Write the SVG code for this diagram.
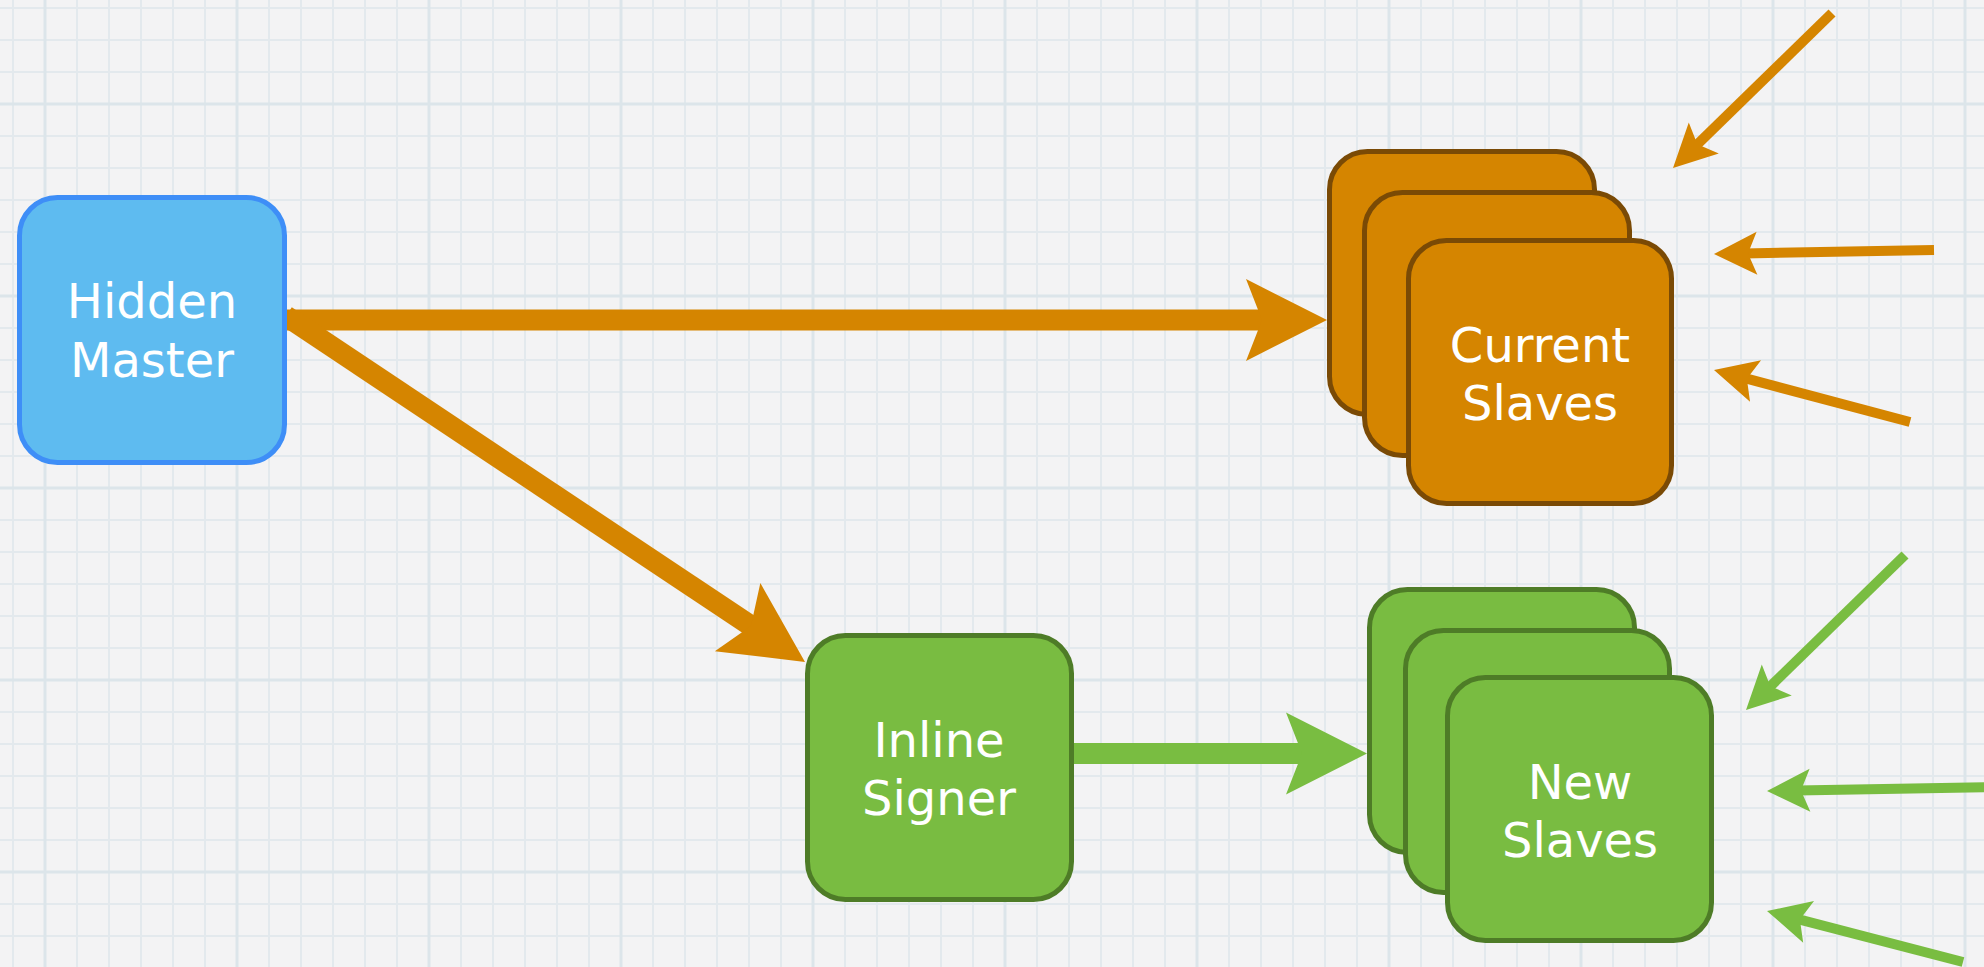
<svg xmlns="http://www.w3.org/2000/svg" xmlns:xlink="http://www.w3.org/1999/xlink" width="1984" height="967" viewBox="0 0 1984 967">
  <style>
    .bg { fill: #f3f3f4; }
    .gthin { stroke: #e3e9ed; stroke-width: 2; }
    .gbold { stroke: #dce5ea; stroke-width: 3; }
    .box-blue { fill: #5ebbf0; stroke: #3e8ef7; stroke-width: 5; }
    .box-orange { fill: #d58500; stroke: #7a4a05; stroke-width: 5; }
    .box-green { fill: #79bc41; stroke: #4e7c27; stroke-width: 5; }
    .lbl { fill: #ffffff; font-family: "DejaVu Sans", Verdana, sans-serif; font-size: 48px; text-anchor: middle; }
    .ln-o { stroke: #d58500; fill: none; stroke-linecap: butt; }
    .ln-g { stroke: #79bd41; fill: none; stroke-linecap: butt; }
    .hd-o { fill: #d58500; }
    .hd-g { fill: #79bd41; }
    .thick { stroke-width: 21; }
    .thin { stroke-width: 10; }
  </style>
  <defs>
    <pattern id="grid" x="-3" y="-8" width="192" height="192" patternUnits="userSpaceOnUse">
      <g class="gthin">
        <line x1="16" y1="0" x2="16" y2="192"/>
        <line x1="80" y1="0" x2="80" y2="192"/>
        <line x1="112" y1="0" x2="112" y2="192"/>
        <line x1="144" y1="0" x2="144" y2="192"/>
        <line x1="176" y1="0" x2="176" y2="192"/>
        <line x1="0" y1="16" x2="192" y2="16"/>
        <line x1="0" y1="48" x2="192" y2="48"/>
        <line x1="0" y1="80" x2="192" y2="80"/>
        <line x1="0" y1="144" x2="192" y2="144"/>
        <line x1="0" y1="176" x2="192" y2="176"/>
      </g>
      <g class="gbold">
        <line x1="48" y1="0" x2="48" y2="192"/>
        <line x1="0" y1="112" x2="192" y2="112"/>
      </g>
    </pattern>
    <path id="headBig" d="M0,0 L-81,-41 L-65,0 L-81,41 Z"/>
    <path id="headSmall" d="M0,0 L-43,-21.5 L-34,0 L-43,21.5 Z"/>
  </defs>

  <rect class="bg" x="0" y="0" width="1984" height="967"/>
  <rect x="0" y="0" width="1984" height="967" fill="url(#grid)"/>

  <g id="connectors">
    <!-- Hidden Master -> Current Slaves -->
    <line class="ln-o thick" x1="284" y1="320" x2="1265" y2="320"/>
    <use xlink:href="#headBig" class="hd-o" transform="translate(1327,320)"/>
    <!-- Hidden Master -> Inline Signer -->
    <line class="ln-o thick" x1="286" y1="316" x2="753.4" y2="627.6"/>
    <use xlink:href="#headBig" class="hd-o" transform="translate(805,662) rotate(33.69)"/>
    <!-- Inline Signer -> New Slaves -->
    <line class="ln-g thick" x1="1070" y1="753.5" x2="1308" y2="753.5"/>
    <use xlink:href="#headBig" class="hd-g" transform="translate(1367,753.5)"/>

    <!-- incoming arrows to Current Slaves -->
    <line class="ln-o thin" x1="1832" y1="13" x2="1694.5" y2="147.1"/>
    <use xlink:href="#headSmall" class="hd-o" transform="translate(1673,168) rotate(135.73)"/>
    <line class="ln-o thin" x1="1934" y1="250" x2="1744" y2="253.5"/>
    <use xlink:href="#headSmall" class="hd-o" transform="translate(1714,254) rotate(178.96)"/>
    <line class="ln-o thin" x1="1910" y1="422" x2="1743" y2="377.7"/>
    <use xlink:href="#headSmall" class="hd-o" transform="translate(1714,370) rotate(-165.14)"/>

    <!-- incoming arrows to New Slaves -->
    <line class="ln-g thin" x1="1905" y1="555" x2="1767.5" y2="689.1"/>
    <use xlink:href="#headSmall" class="hd-g" transform="translate(1746,710) rotate(135.73)"/>
    <line class="ln-g thin" x1="1995" y1="787" x2="1797" y2="790.5"/>
    <use xlink:href="#headSmall" class="hd-g" transform="translate(1767,791) rotate(179)"/>
    <line class="ln-g thin" x1="1963" y1="962" x2="1796" y2="918.6"/>
    <use xlink:href="#headSmall" class="hd-g" transform="translate(1767,911) rotate(-165.41)"/>
  </g>

  <g id="hidden-master">
    <rect class="box-blue" x="19.5" y="197.5" width="265" height="265" rx="38" ry="38"/>
    <text class="lbl" x="152" y="318">Hidden</text>
    <text class="lbl" x="152" y="377">Master</text>
  </g>

  <g id="current-slaves">
    <rect class="box-orange" x="1329.5" y="151.5" width="265" height="263" rx="38" ry="38"/>
    <rect class="box-orange" x="1364.5" y="192.5" width="265" height="263" rx="38" ry="38"/>
    <rect class="box-orange" x="1408.5" y="240.5" width="263" height="263" rx="38" ry="38"/>
    <text class="lbl" x="1540" y="362">Current</text>
    <text class="lbl" x="1540" y="420">Slaves</text>
  </g>

  <g id="inline-signer">
    <rect class="box-green" x="807.5" y="635.5" width="264" height="264" rx="38" ry="38"/>
    <text class="lbl" x="939" y="757">Inline</text>
    <text class="lbl" x="939" y="815">Signer</text>
  </g>

  <g id="new-slaves">
    <rect class="box-green" x="1369.5" y="589.5" width="265" height="263" rx="38" ry="38"/>
    <rect class="box-green" x="1405.5" y="630.5" width="264" height="262" rx="38" ry="38"/>
    <rect class="box-green" x="1447.5" y="677.5" width="264" height="263" rx="38" ry="38"/>
    <text class="lbl" x="1580" y="799">New</text>
    <text class="lbl" x="1580" y="857">Slaves</text>
  </g>
</svg>
